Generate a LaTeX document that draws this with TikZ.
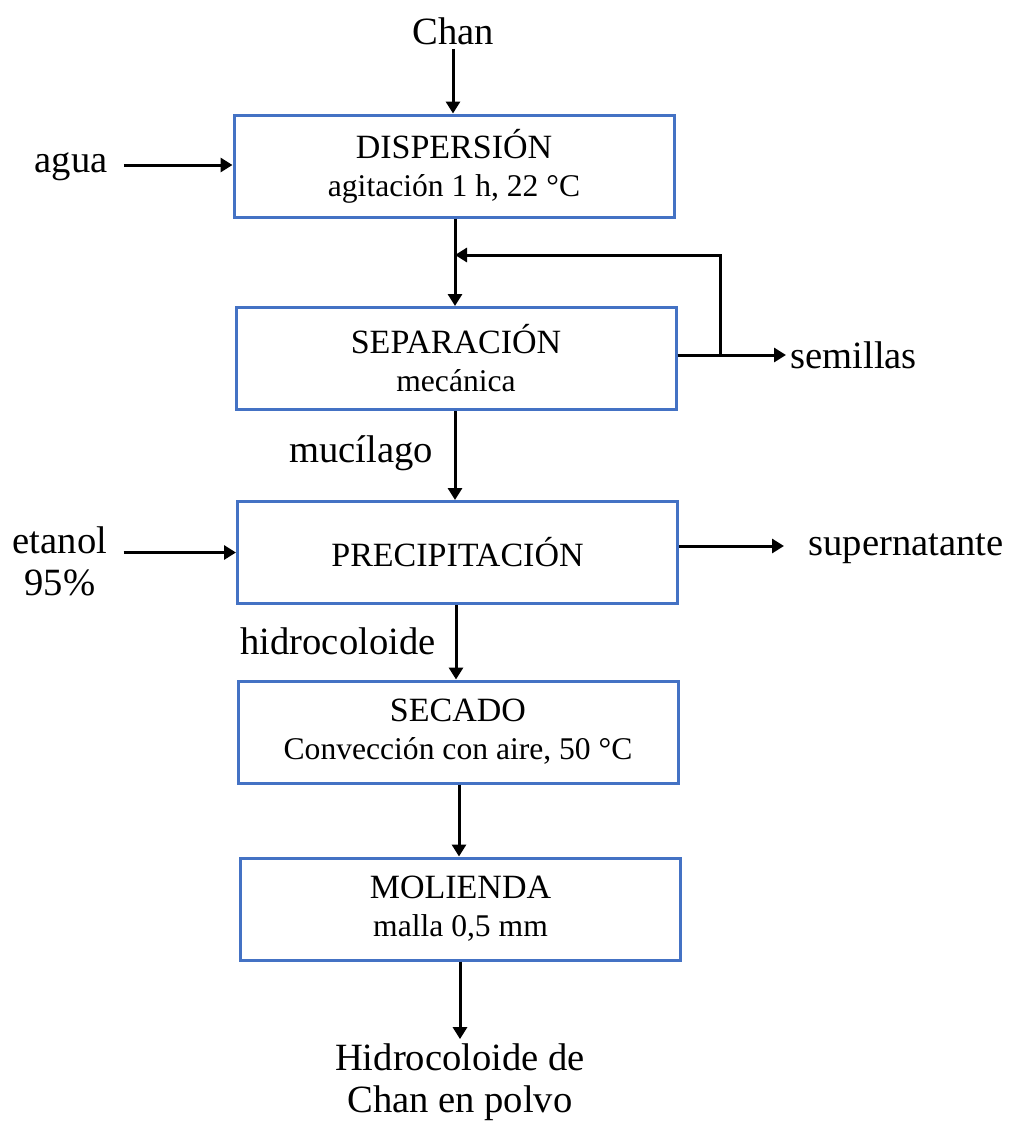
\documentclass[tikz,border=0pt]{standalone}
\usepackage{fontspec}
\setmainfont{Liberation Serif}
\usepackage{xcolor}
\usepackage{tikz}
\usetikzlibrary{arrows.meta}
\definecolor{boxblue}{RGB}{68,114,196}

\begin{document}
\begin{tikzpicture}[x=0.5pt,y=-0.5pt]
    \tikzstyle{stage}=[draw=boxblue,line width=1.5pt,fill=white,minimum width=220pt,minimum height=51pt,align=center,inner sep=0pt,font=\fontsize{15.8}{19}\selectfont]
    \tikzstyle{lbl}=[align=center,inner sep=2pt,font=\fontsize{19.3}{21}\selectfont]
    \pgfsetarrowsend{Triangle[length=6pt,width=7pt]}
    \tikzstyle{fwd} = [draw=black, line width=1.5pt]

    \def\ttl{\fontsize{17}{19}\selectfont}
    \def\ly{255}
    \def\rx{720}

    \useasboundingbox (0,0) rectangle (1015,1124);

    \node[lbl]  (chan) at (453,31) {Chan};
    \node[stage]  (disp) at (454,166) {{\ttl DISPERSIÓN}\\agitación 1 h, 22 °C};
    \node[lbl]  (agua) at (71,167) {agua};

    \node[stage]  (sep) at (456,358.5) {{\ttl SEPARACIÓN}\\mecánica};
    \node[lbl,anchor=west]  (semillas) at (786,355) {semillas};
    \node[lbl]  (mucilago) at (361,453) {mucílago};

    \node[stage]  (prec) at (457.5,552.5) {\ttl PRECIPITACIÓN};
    \node[lbl]  (etanol) at (60,561) {etanol\\95\%};
    \node[lbl,anchor=west]  (super) at (804,549) {supernatante};
    \node[lbl]  (hidro) at (338,641) {hidrocoloide};

    \node[stage]  (sec) at (458,732) {{\ttl SECADO}\\Convección con aire, 50 °C};
    \node[stage]  (mol) at (460.5,909) {{\ttl MOLIENDA}\\malla 0,5 mm};
    \node[lbl]  (prod) at (460,1082) {Hidrocoloide de\\Chan en polvo};

    \coordinate (split) at (\rx,355);
    \coordinate (merge) at (455,\ly);

   \draw [fwd] (chan.south) -- (chan.south |- disp.north);
   \draw [fwd, shorten <=6pt] (agua.east |- 0,165) -- (disp.west |- 0,165);
   \draw [fwd] (disp.south -| 455,0) -- (sep.north -| 455,0);

   \draw [fwd] (sep.east |- split) -- (split) |- (merge);
   \draw [fwd] (sep.east |- split) -- (semillas.west |- split);

   \draw [fwd] (sep.south -| 455,0) -- (prec.north -| 455,0);
   \draw [fwd, shorten <=6pt] (etanol.east |- prec.west) -- (prec.west);
   \draw [fwd, shorten >=10pt] (prec.east |- 0,546) -- (super.west |- 0,546);

   \draw [fwd] (prec.south -| 456,0) -- (sec.north -| 456,0);
   \draw [fwd] (sec.south -| 459,0) -- (mol.north -| 459,0);
   \draw [fwd] (mol.south -| 460,0) -- (prod.north -| 460,0);

\end{tikzpicture}
\end{document}
